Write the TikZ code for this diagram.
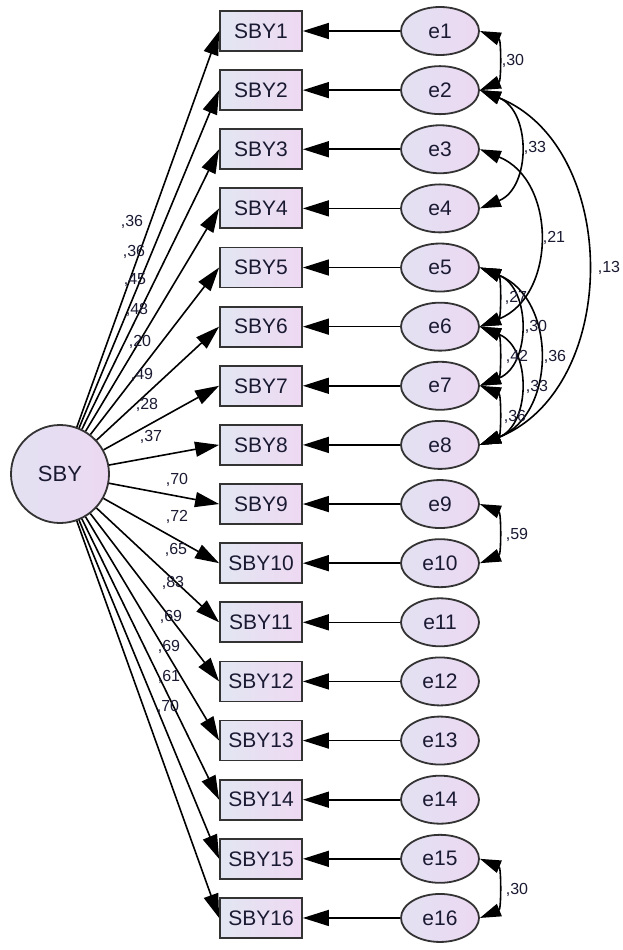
\documentclass[tikz,border=0pt]{standalone}
\usepackage{fontspec}
\setmainfont{Liberation Sans}
\usetikzlibrary{arrows.meta,shapes.geometric}
\definecolor{boxL}{HTML}{E2E6F2}
\definecolor{boxR}{HTML}{EED9F2}
\definecolor{ellL}{HTML}{E3E1F2}
\definecolor{ellR}{HTML}{ECD8F2}
\definecolor{edgec}{HTML}{333333}
\definecolor{txt}{HTML}{1A1A33}
\begin{document}
\begin{tikzpicture}[x=1pt,y=1pt,
  obs/.style={draw=edgec, line width=1.8pt, rectangle, minimum width=82pt, minimum height=40pt, inner sep=0pt, left color=boxL, right color=boxR, text=txt, font=\fontsize{21}{24}\selectfont},
  err/.style={draw=edgec, line width=1.8pt, ellipse, minimum width=78pt, minimum height=48pt, inner sep=0pt, left color=ellL, right color=ellR, text=txt, font=\fontsize{21}{24}\selectfont},
  lat/.style={draw=edgec, line width=1.8pt, circle, minimum size=98pt, inner sep=0pt, left color=ellL, right color=ellR, text=txt, font=\fontsize{22}{24}\selectfont},
  load/.style={>={Triangle[length=24pt,width=15pt]}, ->, line width=1.6pt},
  res/.style={>={Triangle[length=26pt,width=16pt]}, ->, line width=1.6pt},
  cov/.style={>={Triangle[length=21pt,width=13pt]}, <->, line width=1.6pt, bend left=68, looseness=1.2},
  covs/.style={cov, looseness=1.0},
  lbl/.style={font=\fontsize{16}{18}\selectfont, text=txt, inner sep=0pt}
]
\useasboundingbox (0,0) rectangle (622,-950);
\fill[white] (0,0) rectangle (622,-950);
\node[lat] (S) at (60,-474) {SBY};
\foreach \i in {1,...,16} {
  \pgfmathsetmacro{\yy}{-(31+(\i-1)*59.13)}
  \node[obs] (b\i) at (261,\yy) {SBY\i};
  \node[err] (e\i) at (440,\yy) {e\i};
  \draw[res] (e\i) -- (b\i);
  \draw[load] (S) -- (b\i.west);
}
\foreach \v/\x/\y [count=\k] in {36/132/222, 36/134/252, 45/135/280, 48/137/310, 20/140/342, 49/142/375, 28/147/405, 37/151/437, 70/177/480, 72/177/517, 65/176/550, 83/173/583, 69/171/617, 69/169/647, 61/169/677, 70/168/707} {
  \node[lbl] (l\k) at (\x,-\y) {,\v};
}
% covariances
\draw[covs] (e1.east) to (e2.east);
\draw[cov] (e2.east) to (e4.east);
\draw[cov] (e3.east) to (e6.east);
\draw[cov, looseness=1.1] (e2.east) to (e8.east);
\draw[covs] (e5.east) to (e6.east);
\draw[covs] (e6.east) to (e7.east);
\draw[covs] (e7.east) to (e8.east);
\draw[cov] (e5.east) to (e7.east);
\draw[cov] (e6.east) to (e8.east);
\draw[cov] (e5.east) to (e8.east);
\draw[covs] (e9.east) to (e10.east);
\draw[covs] (e15.east) to (e16.east);
\node[lbl] (c12) at (513,-61) {,30};
\node[lbl] (c24) at (535,-148) {,33};
\node[lbl] (c36) at (554,-238) {,21};
\node[lbl] (c28) at (609,-268) {,13};
\node[lbl] (c56) at (516,-298) {,27};
\node[lbl] (c57) at (536,-327) {,30};
\node[lbl] (c67) at (517,-357) {,42};
\node[lbl] (c58) at (555,-357) {,36};
\node[lbl] (c68) at (537,-387) {,33};
\node[lbl] (c78) at (515,-417) {,36};
\node[lbl] (c910) at (517,-535) {,59};
\node[lbl] (c1516) at (517,-890) {,30};
\end{tikzpicture}
\end{document}
